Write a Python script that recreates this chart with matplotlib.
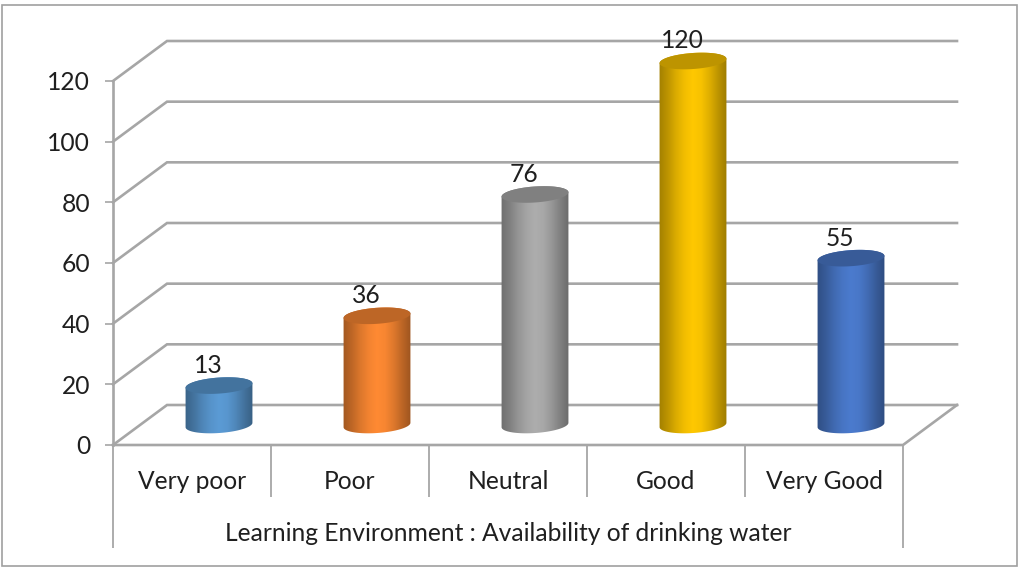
import numpy as np
import matplotlib.pyplot as plt
from matplotlib.colors import LinearSegmentedColormap, to_rgb
from matplotlib.patches import Polygon, Rectangle

plt.rcParams['font.family'] = ['Lato', 'DejaVu Sans']

categories = ['Very poor', 'Poor', 'Neutral', 'Good', 'Very Good']
values = [13, 36, 76, 120, 55]
colors = ['#5B9BD5', '#FF8A33', '#ADADAD', '#FFC800', '#4B7BCE']
y_ticks = [0, 20, 40, 60, 80, 100, 120]
axis_title = 'Learning Environment : Availability of drinking water'

W, H = 1018, 567
GRID = '#a6a6a6'
TEXT = '#1f1f1f'
FS = 17.7

fig = plt.figure(figsize=(W / 100, H / 100), dpi=100)
ax = fig.add_axes([113 / W, (H - 445) / H, 790 / W, 364 / H])
ax.set_xlim(0, 5)
ax.set_ylim(0, 120)

# pixels per data unit, used for the fake 3d offset
px_x = 790 / 5
px_y = 364 / 120
depth_x = 54 / px_x
depth_y = 40 / px_y

# outer chart frame
fig.add_artist(Rectangle((1.5 / W, 1 - 566 / H), 1015.5 / W, 561 / H, fill=False,
                         edgecolor='#a0a0a0', linewidth=1.2, transform=fig.transFigure))

# walls and floor
for v in y_ticks:
    ax.plot([0, depth_x, 5 + depth_x], [v, v + depth_y, v + depth_y],
            color=GRID, lw=1.9, clip_on=False, zorder=1, solid_joinstyle='miter')
ax.plot([5 + depth_x, 5, 0], [depth_y, 0, 0], color=GRID, lw=1.9, clip_on=False, zorder=1)

# axis
for s in ['top', 'right', 'bottom']:
    ax.spines[s].set_visible(False)
ax.spines['left'].set_color(GRID)
ax.spines['left'].set_linewidth(1.9)
ax.patch.set_alpha(0)
ax.set_yticks(y_ticks)
ax.set_xticks([])
ax.tick_params(axis='y', length=6, width=1.2, color=GRID, pad=10.5, labelsize=FS, labelcolor=TEXT)

# category table below the floor
row1 = -52 / px_y
row2 = -103 / px_y
ax.vlines(range(1, 5), row1, 0, color=GRID, lw=1.3, clip_on=False)
ax.vlines([0, 5], row2, 0, color=GRID, lw=1.3, clip_on=False)
for i, c in enumerate(categories):
    ax.text(i + 0.5, -36.5 / px_y, c, ha='center', va='center', fontsize=FS, color=TEXT)
ax.text(2.5, -88.5 / px_y, axis_title, ha='center', va='center', fontsize=FS, color=TEXT)

A, B, TILT = 33.5, 8, np.radians(4)


# tilted ellipse points in data units, t is the angle round the ellipse
def ellipse(cx, cy, t):
    x = A * np.cos(t) * np.cos(TILT) - B * np.sin(t) * np.sin(TILT)
    y = A * np.cos(t) * np.sin(TILT) + B * np.sin(t) * np.cos(TILT)
    return np.column_stack([cx + x / px_x, cy + y / px_y])


t0 = np.arctan2(-B * np.sin(TILT), A * np.cos(TILT))
shade = np.array([0.64, 0.74, 0.86, 0.95, 1.0, 0.97, 0.87, 0.74, 0.62])
for i, (v, col) in enumerate(zip(values, colors)):
    cx = i + 0.5 + depth_x / 2
    cy = depth_y / 2
    rgb = np.array(to_rgb(col))
    bottom = ellipse(cx, cy, np.linspace(t0 + np.pi, t0 + 2 * np.pi, 60))
    top = ellipse(cx, cy + v, np.linspace(t0, t0 + np.pi, 60))
    body = Polygon(np.vstack([bottom, top]), closed=True, transform=ax.transData,
                   facecolor='none', edgecolor='none', zorder=3)
    ax.add_patch(body)
    cmap = LinearSegmentedColormap.from_list('c', [tuple(rgb * s) for s in shade])
    im = ax.imshow(np.linspace(0, 1, 128).reshape(1, -1), cmap=cmap, aspect='auto', zorder=3,
                   extent=[cx - 34 / px_x, cx + 34 / px_x, cy - 12 / px_y, cy + v + 12 / px_y])
    # the tallest bar goes above the axes box, so clip to the figure and the body only
    im.set_clip_box(fig.bbox)
    im.set_clip_path(body)
    lid = ellipse(cx, cy + v, np.linspace(0, 2 * np.pi, 120))
    ax.add_patch(Polygon(lid, closed=True, facecolor=tuple(rgb * 0.74), edgecolor='none',
                         zorder=4, clip_on=False))
    ax.annotate(str(v), (cx, cy + v), xytext=(-8, 14.5), textcoords='offset points',
                ha='center', va='center', fontsize=FS, color=TEXT, zorder=5, annotation_clip=False)

ax.set_xlim(0, 5)
ax.set_ylim(0, 120)

fig.savefig('out.png', dpi=100, facecolor='white')
